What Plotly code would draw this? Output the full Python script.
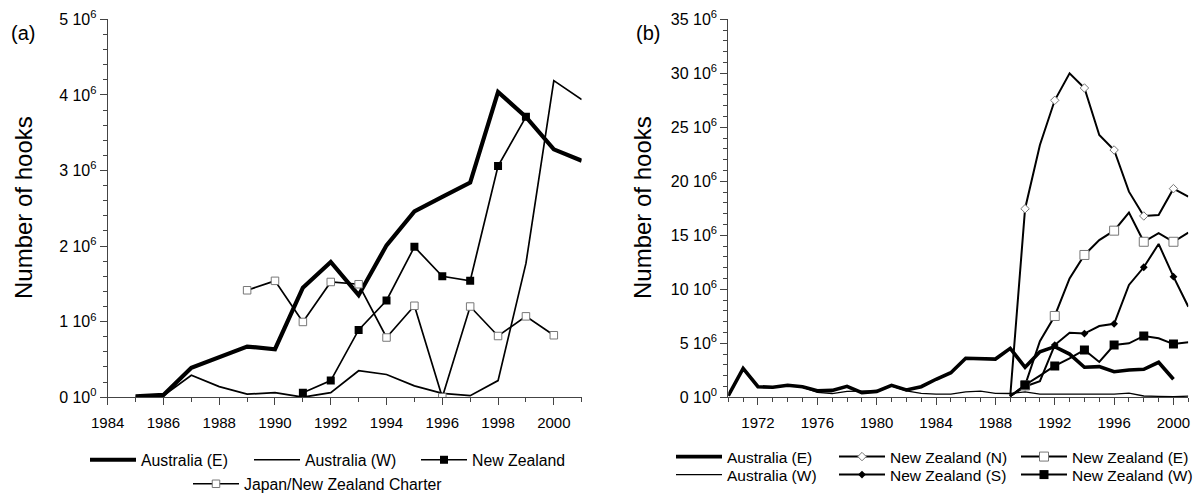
import plotly.graph_objects as go

# ---------------- data (values in hooks) ----------------
M = 1e6
years_a = list(range(1985, 2002))
aus_e_a = [0.01, 0.03, 0.39, 0.53, 0.67, 0.635, 1.45, 1.79, 1.35, 2.01, 2.46, 2.65, 2.84, 4.04, 3.71, 3.28, 3.13]
aus_w_a = [0.01, 0.02, 0.29, 0.14, 0.04, 0.06, 0.0, 0.06, 0.35, 0.30, 0.15, 0.05, 0.02, 0.22, 1.77, 4.19, 3.94]
years_nz_a = list(range(1991, 2000))
nz_a = [0.06, 0.22, 0.89, 1.28, 1.99, 1.60, 1.54, 3.06, 3.71]
years_jp_a = list(range(1989, 2001))
jp_a = [1.415, 1.54, 0.996, 1.525, 1.495, 0.79, 1.21, 0.0, 1.20, 0.81, 1.07, 0.82]

years_b = list(range(1970, 2001))
aus_e_b = [0.15, 2.68, 0.98, 0.93, 1.11, 0.98, 0.61, 0.64, 1.02, 0.43, 0.55, 1.11, 0.68, 0.98, 1.67, 2.28,
           3.61, 3.61, 3.54, 4.53, 2.78, 4.22, 4.69, 4.00, 2.78, 2.84, 2.37, 2.53, 2.59, 3.24, 1.67]
years_bw = list(range(1970, 2002))
aus_w_b = [0.15, 2.60, 0.95, 0.90, 1.10, 0.95, 0.45, 0.35, 0.55, 0.60, 0.60, 1.05, 0.60, 0.37, 0.30, 0.30,
           0.50, 0.58, 0.37, 0.35, 0.50, 0.30, 0.30, 0.30, 0.30, 0.30, 0.30, 0.38, 0.12, 0.08, 0.05, 0.10]
years_nz_b = list(range(1989, 2002))
nz_n = [0.1, 17.46, 23.36, 27.5, 30.0, 28.64, 24.29, 22.9, 19.04, 16.79, 16.88, 19.32, 18.58]
nz_e = [0.1, 1.1, 5.2, 7.53, 11.0, 13.18, 14.56, 15.43, 17.1, 14.4, 15.2, 14.4, 15.24]
nz_s = [0.1, 1.0, 1.5, 4.84, 5.98, 5.9, 6.6, 6.8, 10.4, 12.04, 14.2, 11.17, 8.39]
nz_w = [0.1, 1.14, 2.0, 2.9, 3.6, 4.38, 3.27, 4.84, 5.0, 5.68, 5.46, 4.93, 5.09]

yt_a = [0, 1, 2, 3, 4, 5]
yt_b = [0, 5, 10, 15, 20, 25, 30, 35]

# the page body has an 8px margin; the figure sits at (8, 8)
OFF = 8
W, H = 1203 - OFF, 494 - OFF
FONT = "Liberation Sans, Arial, sans-serif"
AX = "#444"

def fx(p):
    return (p - OFF) / W

def fy(p):
    return 1 - (p - OFF) / H

def sc(v):
    return [None if a is None else a * M for a in v]

def even(xs, ys):
    return [x for x in xs if x % 2 == 0], [y * M for x, y in zip(xs, ys) if x % 2 == 0]

fig = go.Figure()

# ---------------- panel (a) ----------------
fig.add_trace(go.Scatter(x=years_a, y=sc(aus_e_a), mode="lines", name="Australia (E)",
                         line=dict(color="black", width=4.2), xaxis="x", yaxis="y", legend="legend"))
fig.add_trace(go.Scatter(x=years_a, y=sc(aus_w_a), mode="lines", name="Australia (W)",
                         line=dict(color="black", width=1.7), xaxis="x", yaxis="y", legend="legend2"))
fig.add_trace(go.Scatter(x=years_nz_a, y=sc(nz_a), mode="lines+markers", name="New Zealand",
                         line=dict(color="black", width=1.7),
                         marker=dict(symbol="square", size=8, color="black"),
                         xaxis="x", yaxis="y", legend="legend3"))
fig.add_trace(go.Scatter(x=years_jp_a, y=sc(jp_a), mode="lines+markers", name="Japan/New Zealand Charter",
                         line=dict(color="black", width=1.7),
                         marker=dict(symbol="square", size=7.5, color="white", line=dict(color="#777", width=1)),
                         xaxis="x", yaxis="y", legend="legend4"))

# ---------------- panel (b) ----------------
fig.add_trace(go.Scatter(x=years_b, y=sc(aus_e_b), mode="lines", name="Australia (E)",
                         line=dict(color="black", width=3.6), xaxis="x2", yaxis="y2", legend="legend5"))
fig.add_trace(go.Scatter(x=years_bw, y=sc(aus_w_b), mode="lines", name="Australia (W)",
                         line=dict(color="black", width=1.3), xaxis="x2", yaxis="y2", legend="legend6"))

nz_specs = [
    ("New Zealand (N)", nz_n, dict(symbol="diamond", size=6.5, color="white", line=dict(color="#777", width=1)), "legend7"),
    ("New Zealand (S)", nz_s, dict(symbol="diamond", size=6, color="black"), "legend8"),
    ("New Zealand (E)", nz_e, dict(symbol="square", size=9, color="white", line=dict(color="#777", width=1)), "legend9"),
    ("New Zealand (W)", nz_w, dict(symbol="square", size=9, color="black"), "legend10"),
]
for name, vals, mk, lg in nz_specs:
    fig.add_trace(go.Scatter(x=years_nz_b, y=sc(vals), mode="lines", showlegend=False,
                             line=dict(color="black", width=2), xaxis="x2", yaxis="y2"))
    ex, ey = even(years_nz_b, vals)
    fig.add_trace(go.Scatter(x=ex, y=ey, mode="markers", showlegend=False, marker=mk,
                             xaxis="x2", yaxis="y2"))
    fig.add_trace(go.Scatter(x=[None], y=[None], mode="lines+markers", name=name, marker=mk,
                             line=dict(color="black", width=2), xaxis="x2", yaxis="y2", legend=lg))

# ---------------- axes ----------------
common = dict(showgrid=False, zeroline=False, showline=True, linecolor=AX, linewidth=1,
              ticks="outside", tickcolor=AX, tickwidth=1, automargin=False,
              tickfont=dict(family=FONT, size=15, color="black"))

fig.update_layout(
    xaxis=dict(common, domain=[fx(107.7), fx(581.7)], range=[1984, 2001], anchor="y",
               tickmode="linear", tick0=1984, dtick=2, ticklen=7, ticklabelstandoff=5,
               minor=dict(tickmode="linear", tick0=1984, dtick=1, ticklen=4, tickcolor=AX, showgrid=False)),
    yaxis=dict(common, domain=[fy(397.2), fy(19.4)], range=[0, 5 * M], anchor="x",
               tickmode="array", tickvals=[v * M for v in yt_a],
               ticktext=[("0 10<sup>0</sup>" if v == 0 else f"{v} 10<sup>6</sup>") for v in yt_a],
               ticklen=7, tickfont=dict(family=FONT, size=16, color="black"),
               minor=dict(tickmode="linear", tick0=0, dtick=0.2 * M, ticklen=4, tickcolor=AX, showgrid=False)),
    xaxis2=dict(common, domain=[fx(728.3), fx(1188.3)], range=[1970, 2001], anchor="y2",
                tickmode="linear", tick0=1972, dtick=4, ticklen=7, ticklabelstandoff=5,
                minor=dict(tickmode="linear", tick0=1970, dtick=1, ticklen=4, tickcolor=AX, showgrid=False)),
    yaxis2=dict(common, domain=[fy(397.3), fy(19.3)], range=[0, 35 * M], anchor="x2",
                tickmode="array", tickvals=[v * M for v in yt_b],
                ticktext=[("0 10<sup>0</sup>" if v == 0 else f"{v} 10<sup>6</sup>") for v in yt_b],
                ticklen=7, tickfont=dict(family=FONT, size=16, color="black"),
                minor=dict(tickmode="linear", tick0=0, dtick=1 * M, ticklen=4, tickcolor=AX, showgrid=False)),
)

# ---------------- legends ----------------
def leg(x_line, y_row, size=15.8):
    return dict(x=fx(x_line - 6), y=fy(y_row), xanchor="left", yanchor="middle",
                orientation="h", bgcolor="rgba(0,0,0,0)", borderwidth=0, itemwidth=46,
                font=dict(family=FONT, size=size, color="black"), tracegroupgap=0)

fig.update_layout(
    legend=leg(91, 460), legend2=leg(255, 460), legend3=leg(422, 460), legend4=leg(194, 484),
    legend5=leg(677, 457, 15.5), legend6=leg(677, 475, 15.5),
    legend7=leg(840, 457, 15.5), legend8=leg(840, 475, 15.5),
    legend9=leg(1022, 457, 15.5), legend10=leg(1022, 475, 15.5),
)

# ---------------- annotations ----------------
ann = []
for xc, lab in [(23, "(a)"), (648, "(b)")]:
    ann.append(dict(x=fx(xc), y=fy(33), xref="paper", yref="paper", text=lab, showarrow=False,
                    font=dict(family=FONT, size=20, color="black"), xanchor="center", yanchor="middle"))
for xc in [23, 642]:
    ann.append(dict(x=fx(xc), y=fy(208), xref="paper", yref="paper", text="Number of hooks", showarrow=False,
                    textangle=-90, font=dict(family=FONT, size=24, color="black"),
                    xanchor="center", yanchor="middle"))

fig.update_layout(
    width=W, height=H, margin=dict(l=0, r=0, t=0, b=0, autoexpand=False),
    paper_bgcolor="white", plot_bgcolor="white", annotations=ann, showlegend=True,
    font=dict(family=FONT, color="black"),
)

fig.write_html("out.html")
